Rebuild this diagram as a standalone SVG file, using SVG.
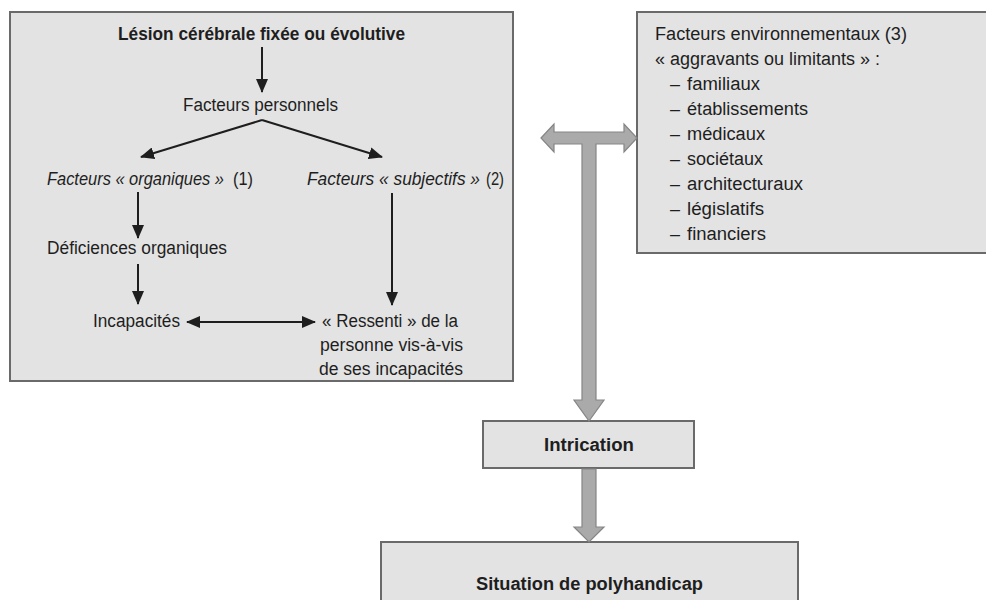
<svg xmlns="http://www.w3.org/2000/svg" width="986" height="600" viewBox="0 0 986 600">
<defs>
<style>
.box{fill:#e3e3e3;stroke:#6a6a6a;stroke-width:2}
text{font-family:"Liberation Sans",Arial,sans-serif;font-size:18px;fill:#1e1e1e}
.b{font-weight:bold}
.i{font-style:italic}
.ln{stroke:#1e1e1e;stroke-width:2;fill:none}
.g{fill:#aaaaaa;stroke:#858585;stroke-width:1.2}
</style>
<marker id="ah" viewBox="0 0 14 12" refX="13" refY="6" markerWidth="14" markerHeight="12" markerUnits="userSpaceOnUse" orient="auto-start-reverse">
<path d="M0,0 L14,6 L0,12 Z" fill="#1e1e1e"/>
</marker>
</defs>
<rect width="986" height="600" fill="#ffffff"/>

<g id="left-box"><rect class="box" x="10" y="12" width="503" height="369"/></g>
<g id="lesion"><text class="b" x="118" y="40" font-size="19" textLength="287" lengthAdjust="spacingAndGlyphs">Lésion cérébrale fixée ou évolutive</text></g>
<g id="personnels"><text x="183" y="111" textLength="155" lengthAdjust="spacingAndGlyphs">Facteurs personnels</text></g>
<g id="organiques"><text class="i" x="47" y="185" font-size="15.5" textLength="177" lengthAdjust="spacingAndGlyphs">Facteurs « organiques »</text><text x="233" y="185" font-size="17" textLength="20" lengthAdjust="spacingAndGlyphs">(1)</text></g>
<g id="subjectifs"><text class="i" x="307" y="185" font-size="17" textLength="173" lengthAdjust="spacingAndGlyphs">Facteurs « subjectifs »</text><text x="486" y="185" textLength="18" lengthAdjust="spacingAndGlyphs">(2)</text></g>
<g id="deficiences"><text x="47" y="254" textLength="180" lengthAdjust="spacingAndGlyphs">Déficiences organiques</text></g>
<g id="incapacites"><text x="93" y="327" textLength="87" lengthAdjust="spacingAndGlyphs">Incapacités</text></g>
<g id="ressenti">
<text x="322" y="327" textLength="136" lengthAdjust="spacingAndGlyphs">« Ressenti » de la</text>
<text x="320" y="351" textLength="143" lengthAdjust="spacingAndGlyphs">personne vis-à-vis</text>
<text x="319" y="375" textLength="144" lengthAdjust="spacingAndGlyphs">de ses incapacités</text>
</g>

<g id="environnement">
<rect class="box" x="637" y="12" width="360" height="241"/>
<text x="655" y="40" textLength="252" lengthAdjust="spacingAndGlyphs">Facteurs environnementaux (3)</text>
<text x="655" y="65" textLength="225" lengthAdjust="spacingAndGlyphs">« aggravants ou limitants » :</text>
<text x="670" y="90">– <tspan x="687" textLength="73" lengthAdjust="spacingAndGlyphs">familiaux</tspan></text>
<text x="670" y="115">– <tspan x="687" textLength="121" lengthAdjust="spacingAndGlyphs">établissements</tspan></text>
<text x="670" y="140">– <tspan x="687" textLength="78" lengthAdjust="spacingAndGlyphs">médicaux</tspan></text>
<text x="670" y="165">– <tspan x="687" textLength="76" lengthAdjust="spacingAndGlyphs">sociétaux</tspan></text>
<text x="670" y="190">– <tspan x="687" textLength="116" lengthAdjust="spacingAndGlyphs">architecturaux</tspan></text>
<text x="670" y="215">– <tspan x="687" textLength="77" lengthAdjust="spacingAndGlyphs">législatifs</tspan></text>
<text x="670" y="240">– <tspan x="687" textLength="79" lengthAdjust="spacingAndGlyphs">financiers</tspan></text>
</g>

<g id="intrication">
<rect class="box" x="483" y="421" width="211" height="47"/>
<text class="b" x="544" y="451" textLength="90" lengthAdjust="spacingAndGlyphs">Intrication</text>
</g>

<g id="situation">
<rect class="box" x="381" y="542" width="417" height="70"/>
<text class="b" x="476" y="590" textLength="227" lengthAdjust="spacingAndGlyphs">Situation de polyhandicap</text>
</g>

<g id="connectors">
<line class="ln" x1="262" y1="47" x2="262" y2="92" marker-end="url(#ah)"/>
<line class="ln" x1="262" y1="120" x2="141" y2="157" marker-end="url(#ah)"/>
<line class="ln" x1="262" y1="120" x2="382" y2="157" marker-end="url(#ah)"/>
<line class="ln" x1="138" y1="192" x2="138" y2="238" marker-end="url(#ah)"/>
<line class="ln" x1="138" y1="264" x2="138" y2="304" marker-end="url(#ah)"/>
<line class="ln" x1="392" y1="193" x2="392" y2="305" marker-end="url(#ah)"/>
<line class="ln" x1="187" y1="322" x2="315" y2="322" marker-start="url(#ah)" marker-end="url(#ah)"/>
<path class="g" d="M541,138 L554,124 L554,132 L624,132 L624,124 L637,138 L624,152 L624,144 L596,144 L596,400 L604,400 L589,421 L574,400 L582,400 L582,144 L554,144 L554,152 Z"/>
<path class="g" d="M582,469 L596,469 L596,527 L604,527 L589,542 L574,527 L582,527 Z"/>
</g>
</svg>
